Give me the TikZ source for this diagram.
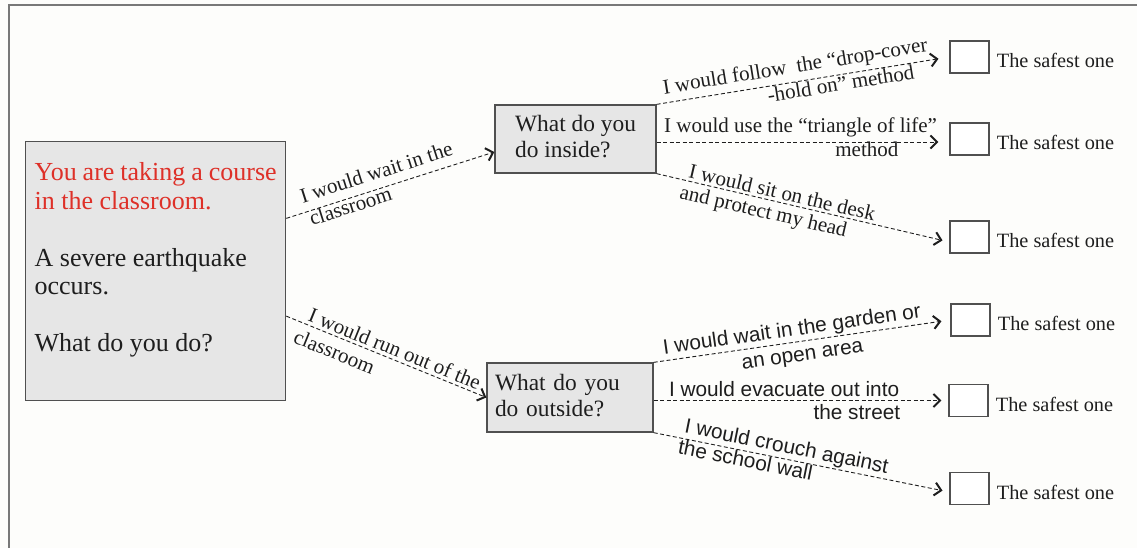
\documentclass[tikz,border=0pt]{standalone}
\usepackage{fontspec}
\setmainfont{Liberation Serif}
\newfontfamily\arialfont{Liberation Sans}
\usetikzlibrary{arrows.meta}
\definecolor{boxgray}{RGB}{230,230,230}
\definecolor{edgegray}{RGB}{80,80,80}
\definecolor{framegray}{RGB}{120,120,120}
\definecolor{qred}{RGB}{222,48,40}
\definecolor{ink}{RGB}{30,30,30}
\definecolor{bgc}{RGB}{253,253,251}
\newcommand{\lbraise}[2]{\raisebox{#1pt}{#2}}
\begin{document}
\begin{tikzpicture}[x=1pt,y=-1pt,
  qbox/.style={draw=edgegray, fill=boxgray, line width=1.3pt, inner sep=0pt, font=\fontsize{23.4}{26}\selectfont, text=ink},
  chk/.style={draw=edgegray, fill=white, line width=1.3pt, minimum width=39pt, minimum height=32pt, inner sep=0pt},
  safe/.style={font=\fontsize{20.3}{24}\selectfont, text=ink, inner sep=0pt, anchor=base west},
  conn/.style={draw=ink, line width=0.9pt, dash pattern=on 4pt off 2.5pt, -{Straight Barb[length=6.5pt,width=13pt,line width=2pt]}},
  lab/.style={sloped, anchor=base west, inner sep=0pt, font=\fontsize{21}{24}\selectfont, text=ink},
  slab/.style={lab, font=\arialfont\fontsize{20.8}{24}\selectfont},
]
\fill[bgc] (0,0) rectangle (1137,548);
\useasboundingbox (0,0) rectangle (1137,548);
\draw[framegray, line width=2pt] (9,548) -- (9,5) -- (1137,5);

% main box
\node[qbox, anchor=north west, minimum width=260pt, minimum height=259pt] (m) at (25,141)
  {\parbox[t][259pt][t]{242pt}{\fontsize{26}{28.5}\selectfont\raggedright
   \vspace*{21.2pt}%
   {\color{qred}You are taking a course\\in the classroom.}\\[28.5pt]
   A severe earthquake\\occurs.\\[28.5pt]
   What do you do?}};

% question boxes
\node[qbox, minimum width=161pt, minimum height=68pt, align=left] (ib) at (575.5,139) {What do you\\do inside?\vphantom{y}};
\node[qbox, minimum width=166pt, minimum height=69pt, text width=150pt, inner xsep=8pt, align=left] (ob) at (570,397.5) {What do you\\do outside?\vphantom{y}};

% check boxes
\node[chk] (c1) at (969.5,57) {};
\node[chk] (c2) at (969.5,139) {};
\node[chk] (c3) at (969.5,237) {};
\node[chk] (c4) at (970.5,320) {};
\node[chk] (c5) at (968.5,400.5) {};
\node[chk] (c6) at (969.5,488.5) {};
\foreach \i in {1,...,6}{
  \node[safe] (t\i) at ([xshift=7pt,yshift=-10.5pt]c\i.east) {The safest one};
}

% connectors from main box
\draw[conn] (m.22.9) --
  node[lab,pos=.091]{\lbraise{9.5}{I would wait in the}}
  node[lab,pos=.10]{\lbraise{-15}{classroom}}
  ([yshift=-13pt]ib.west);
\draw[conn] (m.-19.7) --
  node[lab,pos=.095]{\lbraise{3.5}{I would run out of the}}
  node[lab,pos=.07]{\lbraise{-22}{classroom}}
  (ob.west);

% inside options
\draw[conn, shorten >=11pt] (ib.north east) --
  node[lab,pos=.0285]{\lbraise{9}{I would follow\ \ the “drop-cover}}
  node[lab,pos=.373]{\lbraise{-16}{-hold on” method}}
  (c1.west);
\draw[conn, shorten >=11pt] ([yshift=-3pt]ib.east) --
  node[lab,pos=.024]{\lbraise{9}{I would use the “triangle of life”}}
  node[lab,pos=.609]{\lbraise{-15}{method}}
  ([yshift=-3pt]c2.west);
\draw[conn, shorten >=7pt] (ib.south east) --
  node[lab,pos=.103]{\lbraise{3}{I would sit on the desk}}
  node[lab,pos=.089]{\lbraise{-19}{and protect my head}}
  ([yshift=-5pt]c3.west);

% outside options
\draw[conn, shorten >=9pt] (ob.north east) --
  node[slab,pos=.0365]{\lbraise{6.5}{I would wait in the garden or}}
  node[slab,pos=.289]{\lbraise{-19.5}{an open area}}
  (c4.west);
\draw[conn, shorten >=7pt] (ob.east |- c5.west) --
  node[slab,pos=.0507]{\lbraise{4}{I would evacuate out into}}
  node[slab,pos=.541]{\lbraise{-19}{the street}}
  (c5.west);
\draw[conn, shorten >=7pt] (ob.south east) --
  node[slab,pos=.097]{\lbraise{6}{I would crouch against}}
  node[slab,pos=.089]{\lbraise{-16}{the school wall}}
  ([yshift=-3.5pt]c6.west);
\end{tikzpicture}
\end{document}
